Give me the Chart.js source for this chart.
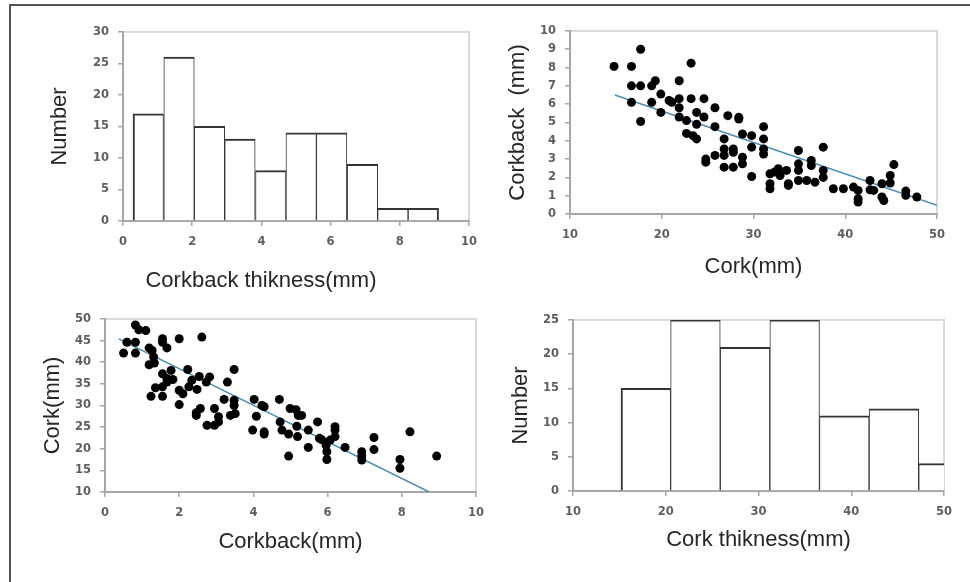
<!DOCTYPE html>
<html>
<head>
<meta charset="utf-8">
<script src="https://cdn.jsdelivr.net/npm/chart.js@4.4.1/dist/chart.umd.min.js"></script>
<style>
  html, body { margin: 0; padding: 0; background: #fff; }
  #page { position: relative; width: 970px; height: 582px; overflow: hidden; }
  #frame { position: absolute; left: 9px; top: 4px; right: -10px; bottom: -10px;
           border-left: 2px solid #555; border-top: 2px solid #555; }
  canvas { position: absolute; }
</style>
</head>
<body>
<div id="page">
  <div id="frame"></div>
  <canvas id="hist-corkback"></canvas>
  <canvas id="scatter-cork"></canvas>
  <canvas id="scatter-corkback"></canvas>
  <canvas id="hist-cork"></canvas>
</div>
<script>
// === Histogram: corkback thickness (bin centres, counts)
const corkbackBins = [0.73, 1.62, 2.50, 3.38, 4.27, 5.15, 6.03, 6.92, 7.80, 8.68];
const corkbackCounts = [17, 26, 15, 13, 8, 14, 14, 9, 2, 2];

// === Histogram: cork thickness
const corkBins = [17.85, 23.20, 28.55, 33.90, 39.25, 44.60, 49.95];
const corkCounts = [15, 25, 21, 25, 11, 12, 4];

// === Scatter: cork (x) vs corkback (y)
const corkA = [14.8,16.7,17.7,16.7,17.7,16.7,17.7,18.9,19.3,18.9,19.9,19.9,20.8,21.1,21.9,21.9,21.9,21.9,23.2,23.2,
  22.7,22.7,23.4,23.8,23.8,23.8,24.6,24.6,25.8,25.8,24.8,24.8,25.8,26.8,26.8,26.8,26.8,27.2,27.8,27.8,
  27.8,28.4,28.4,28.8,28.8,28.8,29.8,29.8,29.8,31.1,31.1,31.1,31.1,31.8,31.8,31.8,32.3,32.7,32.9,33.6,
  33.8,33.8,34.9,34.9,34.9,34.9,35.8,36.3,36.3,36.7,37.6,37.6,37.6,38.7,39.8,40.9,41.4,41.4,41.4,42.7,
  42.7,43.1,44.0,44.0,44.2,44.9,44.9,45.3,46.6,46.6,47.8];
const corkbackA = [8.06,8.06,9.0,7.0,7.0,6.1,5.05,7.0,7.28,6.1,6.55,5.55,6.2,6.1,7.28,6.3,5.8,5.3,8.24,6.3,
  5.1,4.4,4.28,5.55,4.9,4.1,6.3,5.3,5.8,4.77,3.0,2.83,3.2,4.1,3.55,3.2,2.56,5.37,3.55,3.37,
  2.56,5.28,5.19,4.37,3.1,2.74,4.28,3.65,2.05,4.77,4.1,3.55,3.28,2.2,1.65,1.38,2.29,2.47,2.1,2.38,
  1.65,1.56,3.47,2.74,2.38,1.83,1.83,2.92,2.65,1.74,3.65,2.38,2.0,1.38,1.38,1.47,1.29,0.83,0.65,1.83,
  1.32,1.29,1.65,0.93,0.74,2.1,1.69,2.7,1.25,1.02,0.93];
const trendAX = [14.9, 50];
const trendAY = [6.5, 0.47];

// === Scatter: corkback (x) vs cork (y)
const corkbackB = [0.5,0.59,0.82,0.82,0.82,0.91,1.1,1.19,1.19,1.27,1.31,1.33,1.24,1.36,1.55,1.55,1.67,1.55,1.55,1.55,
  1.67,1.67,1.78,1.83,2.0,2.0,2.0,2.1,2.23,2.26,2.34,2.48,2.54,2.61,2.57,2.46,2.46,2.73,2.82,2.75,
  2.95,2.95,3.06,3.06,3.21,3.3,3.38,3.48,3.48,3.48,3.51,4.02,4.08,3.98,4.23,4.29,4.29,4.29,4.7,4.72,
  4.77,4.95,4.95,4.99,5.15,5.21,5.17,5.19,5.3,5.48,5.48,5.73,5.78,5.84,5.96,5.98,5.98,6.07,6.2,6.2,
  6.2,6.47,6.92,6.92,6.92,7.25,7.25,7.95,7.95,8.22,8.94];
const corkB = [42.1,44.6,48.6,44.6,42.1,47.5,47.3,43.3,39.4,42.7,41.2,39.8,32.1,34.1,45.4,44.6,43.3,37.3,34.3,32.1,
  36.2,35.4,38.1,36.0,45.4,33.5,30.2,32.7,38.3,34.3,35.8,33.7,36.7,45.8,29.3,27.7,28.3,35.4,36.6,25.4,
  29.3,25.4,27.4,26.2,31.4,35.4,27.7,38.3,31.2,30.0,28.1,31.4,27.5,24.3,30.0,29.7,23.9,23.4,31.4,26.2,
  24.3,23.4,18.3,29.3,29.0,27.7,25.2,22.8,27.7,24.3,20.3,26.2,22.4,22.1,20.8,19.3,17.5,22.0,25.1,24.3,
  22.8,20.3,19.3,18.3,17.4,22.6,19.8,17.5,15.5,23.9,18.3];
const trendBX = [0.37, 8.74];
const trendBY = [45.4, 10];

// === Axis ranges [min, max, step]
const hist1X = [0, 10, 2], hist1Y = [0, 30, 5];
const scatAX = [10, 50, 10], scatAY = [0, 10, 1];
const scatBX = [0, 10, 2], scatBY = [10, 50, 5];
const hist2X = [10, 50, 10], hist2Y = [0, 25, 5];

// === Where each plot sits on the page (plot area edges, title centres)
const place1 = { l: 123, r: 469, t: 31, b: 221, yTitleX: 60, xTitleY: 281, xTitleCX: 261 };
const place2 = { l: 570, r: 937, t: 30, b: 214, yTitleX: 518, xTitleY: 267 };
const place3 = { l: 105, r: 476, t: 318, b: 492, yTitleX: 53, xTitleY: 542 };
const place4 = { l: 573, r: 944, t: 319, b: 491, yTitleX: 521, xTitleY: 540 };

Chart.defaults.font.family = "'DejaVu Sans', sans-serif";
Chart.defaults.font.size = 11.5;
Chart.defaults.font.weight = 'bold';
Chart.defaults.color = '#5f5f5f';

const TITLE_FONT = { family: "'Liberation Sans', Arial, sans-serif", size: 22, weight: 'normal', lineHeight: 1.2 };
const LH = 22 * 1.2;
const TITLE_COLOR = '#262626';

const plotFrame = {
  id: 'plotFrame',
  beforeDraw(chart) {
    const { ctx, chartArea: a } = chart;
    ctx.save();
    ctx.strokeStyle = '#d9d9d9';
    ctx.lineWidth = 2;
    ctx.strokeRect(a.left, a.top, a.right - a.left, a.bottom - a.top);
    ctx.restore();
  }
};

function axis(range, title, size, titlePad) {
  return {
    type: 'linear', min: range[0], max: range[1], offset: false,
    ticks: { stepSize: range[2], padding: 9 },
    grid: { drawOnChartArea: false, tickLength: 5, color: '#a6a6a6', lineWidth: 1.5, offset: false },
    border: { color: '#a6a6a6', width: 2 },
    title: title
      ? { display: true, text: title, color: TITLE_COLOR, font: TITLE_FONT, padding: titlePad }
      : { display: false },
    afterFit: s => { if (s.isHorizontal()) s.height = size; else s.width = size; }
  };
}

function makeChart(id, p, type, datasets, xr, yr, xTitle, yTitle) {
  const cv = document.getElementById(id);
  const left = p.yTitleX - 30, top = p.t - 15;
  const right = p.r + 20, bottom = p.xTitleY + 20;
  cv.width = right - left;
  cv.height = bottom - top;
  cv.style.left = left + 'px';
  cv.style.top = top + 'px';

  // first histogram: x title is centred over a wider box than the plot
  const ownTitle = !!p.xTitleCX;
  const padL = ownTitle ? 2 * p.xTitleCX - p.r - left : 0;
  const titleBox = ownTitle ? LH + 20 - LH / 2 : 0;

  new Chart(cv, {
    type,
    data: { datasets },
    options: {
      responsive: false,
      animation: false,
      events: [],
      layout: { padding: { left: padL, top: p.t - top, right: right - p.r, bottom: 0 } },
      plugins: {
        legend: { display: false },
        tooltip: { enabled: false },
        title: {
          display: ownTitle, position: 'bottom', text: xTitle,
          color: TITLE_COLOR, font: TITLE_FONT, padding: { top: 0, bottom: 20 - LH / 2 }
        }
      },
      scales: {
        x: axis(xr, ownTitle ? null : xTitle, bottom - titleBox - p.b, { bottom: 20 - LH / 2 }),
        y: axis(yr, yTitle, p.l - left - padL, { top: p.yTitleX - (left + padL) - LH / 2 })
      }
    },
    plugins: [plotFrame]
  });
}

function bars(centres, counts) {
  const last = centres.length - 1;
  return [{
    data: centres.map((x, i) => ({ x, y: counts[i] })),
    backgroundColor: '#ffffff',
    borderColor: '#333333',
    // neighbouring bars share an edge, so inner sides get half the width
    borderWidth: c => ({ top: 2, left: c.dataIndex === 0 ? 2 : 1, right: c.dataIndex === last ? 2 : 1, bottom: 0 }),
    barPercentage: 1,
    categoryPercentage: 1,
    grouped: false
  }];
}

function dots(xs, ys, tx, ty) {
  return [{
    data: xs.map((x, i) => ({ x, y: ys[i] })),
    pointRadius: 4.5,
    pointBackgroundColor: '#000',
    pointBorderWidth: 0,
    showLine: false
  }, {
    data: tx.map((x, i) => ({ x, y: ty[i] })),
    showLine: true,
    borderColor: '#4a8db5',
    borderWidth: 1.5,
    pointRadius: 0
  }];
}

makeChart('hist-corkback', place1, 'bar', bars(corkbackBins, corkbackCounts),
  hist1X, hist1Y, 'Corkback thikness(mm)', 'Number');
makeChart('scatter-cork', place2, 'scatter', dots(corkA, corkbackA, trendAX, trendAY),
  scatAX, scatAY, 'Cork(mm)', 'Corkback  (mm)');
makeChart('scatter-corkback', place3, 'scatter', dots(corkbackB, corkB, trendBX, trendBY),
  scatBX, scatBY, 'Corkback(mm)', 'Cork(mm)');
makeChart('hist-cork', place4, 'bar', bars(corkBins, corkCounts),
  hist2X, hist2Y, 'Cork thikness(mm)', 'Number');
</script>
</body>
</html>
